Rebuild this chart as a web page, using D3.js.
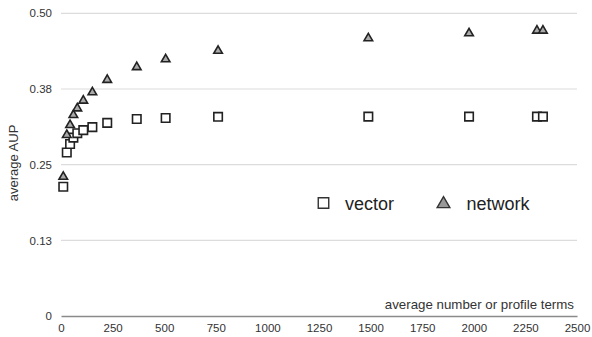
<!DOCTYPE html>
<html><head><meta charset="utf-8">
<script src="https://cdn.jsdelivr.net/npm/d3@7/dist/d3.min.js"></script>
<style>body{margin:0;background:#fff}svg{display:block;font-family:"Liberation Sans",Arial,sans-serif}</style>
</head><body><svg id="c" width="592" height="337"></svg>
<script>
const termCounts = [11, 28, 44, 60, 79, 108, 152, 224, 367, 507, 761, 1489, 1977, 2306, 2335];
const vectorAUP  = [0.2136, 0.270, 0.284, 0.2946, 0.302, 0.307, 0.312, 0.319, 0.3255, 0.327, 0.329, 0.3293, 0.3293, 0.3293, 0.3293];
const networkAUP = [0.230, 0.299, 0.3155, 0.332, 0.343, 0.3557, 0.3696, 0.390, 0.411, 0.424, 0.438, 0.4588, 0.467, 0.4713, 0.4713];
const xTicks = [0, 250, 500, 750, 1000, 1250, 1500, 1750, 2000, 2250, 2500];
const yTicks = [0, 0.125, 0.25, 0.375, 0.5];
const seriesNames = ["vector", "network"];

const svg = d3.select("#c");
const x = d3.scaleLinear().domain([0, 2500]).range([61, 577]);
const y = d3.scaleLinear().domain([0, 0.5]).range([316, 13.3]);

// gridlines
svg.append("g").selectAll("line").data(yTicks.filter(d => d > 0)).join("line")
  .attr("x1", x(0)).attr("x2", x(2500)).attr("y1", d => y(d)).attr("y2", d => y(d))
  .attr("stroke", "#dcdcdc").attr("stroke-width", 1.2);

// y axis labels
const yAxis = d3.axisLeft(y).tickValues(yTicks).tickSize(0).tickPadding(9)
  .tickFormat(d => d === 0 ? "0" : d3.format(".2f")(d + 1e-9));
const gy = svg.append("g").attr("transform", `translate(${x(0)},0)`).call(yAxis);
gy.select(".domain").remove();
gy.selectAll("text").attr("font-size", 11.5).attr("fill", "#333").attr("font-family", "Liberation Sans, Arial, sans-serif");

// x axis
const xAxis = d3.axisBottom(x).tickValues(xTicks).tickSize(0).tickPadding(8).tickFormat(d3.format("d"));
const gx = svg.append("g").attr("transform", `translate(0,${y(0)})`).call(xAxis);
gx.select(".domain").attr("stroke", "#8a8a8a").attr("stroke-width", 1.3);
gx.selectAll("text").attr("font-size", 11.5).attr("fill", "#333").attr("font-family", "Liberation Sans, Arial, sans-serif");

// axis titles
svg.append("text").attr("transform", "translate(18,163) rotate(-90)").attr("text-anchor", "middle")
  .attr("font-size", 13).attr("fill", "#333").text("average AUP");
svg.append("text").attr("x", 574).attr("y", 309).attr("text-anchor", "end")
  .attr("font-size", 13.3).attr("fill", "#333").text("average number or profile terms");

const sq = d3.symbol().type(d3.symbolSquare).size(72);
const tri = d3.symbol().type(d3.symbolTriangle).size(32);

// vector squares
svg.append("g").selectAll("path").data(termCounts.map((t, i) => [t, vectorAUP[i]])).join("path")
  .attr("d", sq).attr("transform", d => `translate(${x(d[0])},${y(d[1])})`)
  .attr("fill", "#fff").attr("stroke", "#222").attr("stroke-width", 1.6);

// network triangles
svg.append("g").selectAll("path").data(termCounts.map((t, i) => [t, networkAUP[i]])).join("path")
  .attr("d", tri).attr("transform", d => `translate(${x(d[0])},${y(d[1])})`)
  .attr("fill", "#aaa").attr("stroke", "#222").attr("stroke-width", 1.6);

// legend
const leg = svg.append("g");
leg.append("path").attr("d", d3.symbol().type(d3.symbolSquare).size(110)).attr("transform", "translate(323.5,203)")
  .attr("fill", "#fff").attr("stroke", "#333").attr("stroke-width", 1.4);
leg.append("text").attr("x", 345).attr("y", 209.5).attr("font-size", 18).attr("fill", "#222").text(seriesNames[0]);
leg.append("path").attr("d", d3.symbol().type(d3.symbolTriangle).size(70)).attr("transform", "translate(443.5,204)")
  .attr("fill", "#999").attr("stroke", "#333").attr("stroke-width", 1.4);
leg.append("text").attr("x", 466.5).attr("y", 209.5).attr("font-size", 18).attr("fill", "#222").text(seriesNames[1]);
</script></body></html>
